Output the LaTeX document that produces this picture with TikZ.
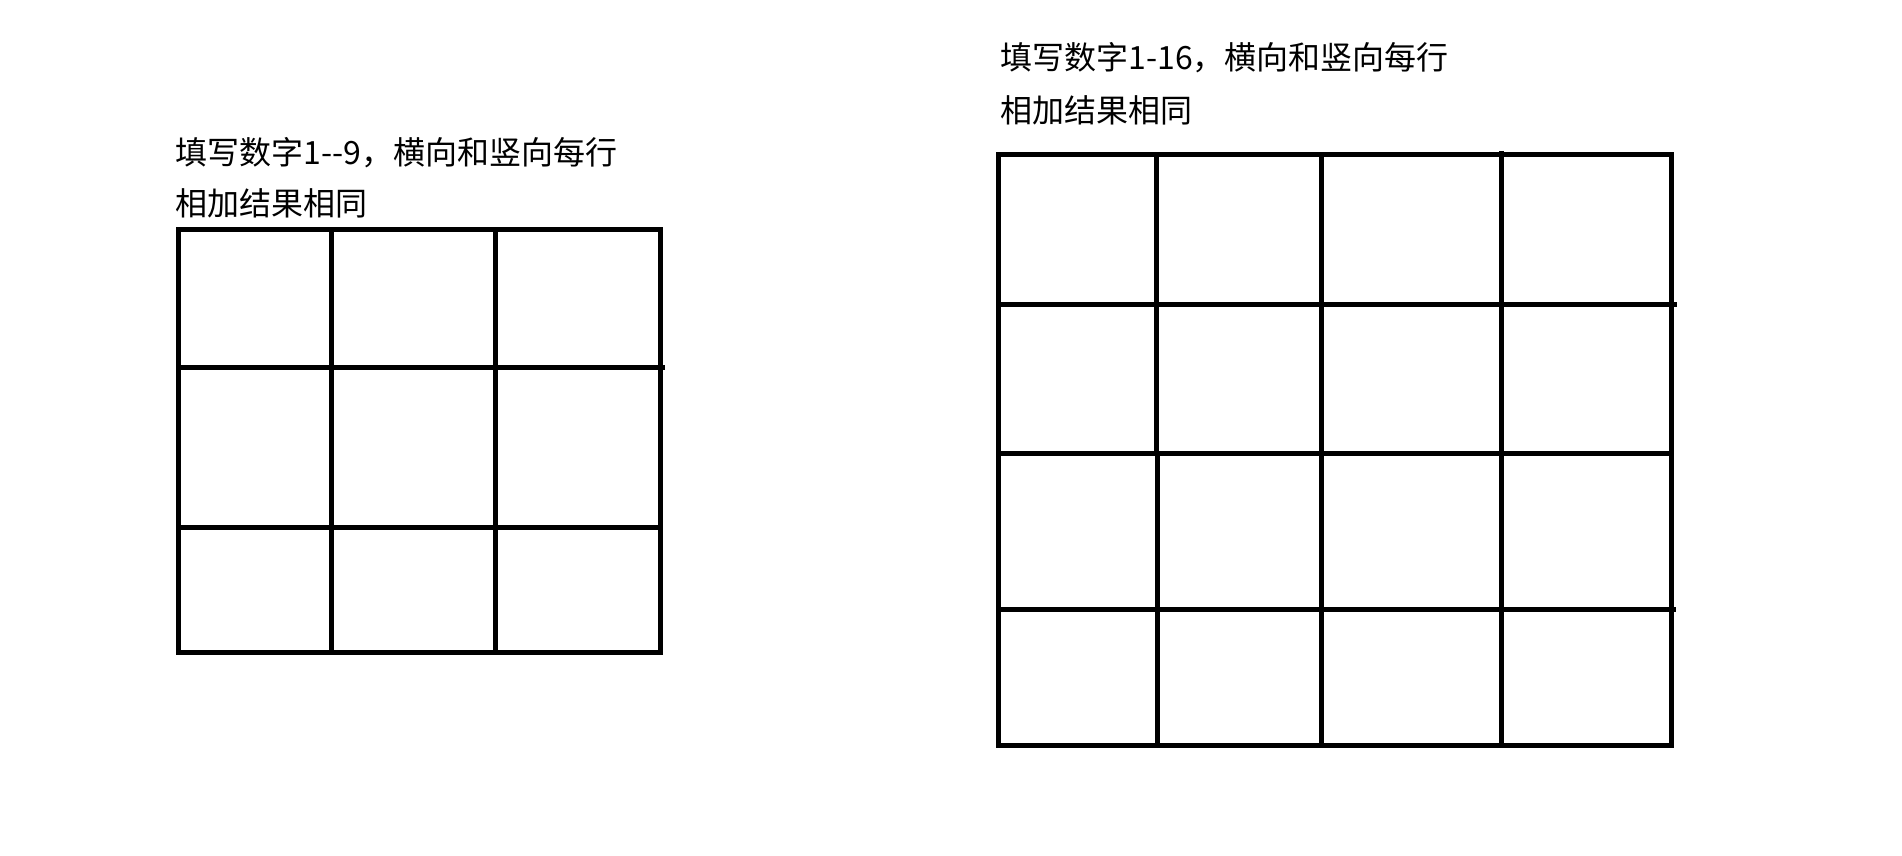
\documentclass[tikz,border=0pt]{standalone}
\usepackage{fontspec}
\setmainfont{Noto Sans CJK SC}
\begin{document}
\begin{tikzpicture}[x=0.5pt,y=-0.5pt,
  gridline/.style={line width=2.3pt, black},
  lbl/.style={anchor=base west, inner sep=0pt, font=\fontsize{16pt}{20pt}\selectfont}]
\fill[white] (0,0) rectangle (1902,856);
\useasboundingbox (0,0) rectangle (1902,856);
% left texts
\node[lbl] (l1) at (175,164) {填写数字1-{}-9，横向和竖向每行};
\node[lbl] (l2) at (175,215) {相加结果相同};
% right texts
\node[lbl] (r1) at (1000,69.5) {填写数字1-16，横向和竖向每行};
\node[lbl] (r2) at (1000,123) {相加结果相同};
% left 3x3 grid
\draw[gridline] (178.3,229.3) rectangle (660.7,652.3);
\draw[gridline] (331.3,229.3) -- (331.3,652.3);
\draw[gridline] (495.5,229.3) -- (495.5,652.3);
\draw[gridline] (178.3,367.3) -- (665,367.3);
\draw[gridline] (176,527.3) -- (660.7,527.3);
% right 4x4 grid
\draw[gridline] (998.3,154.3) rectangle (1671.5,745.3);
\draw[gridline] (1156.3,154.3) -- (1156.3,453.3);
\draw[gridline] (1157.7,453.3) -- (1157.7,745.3);
\draw[gridline] (1321.3,154.3) -- (1321.3,745.3);
\draw[gridline] (1501.3,151) -- (1501.3,745.3);
\draw[gridline] (998.3,304.3) -- (1676.5,304.3);
\draw[gridline] (998.3,453.3) -- (1671.5,453.3);
\draw[gridline] (998.3,609.3) -- (1676,609.3);
\end{tikzpicture}
\end{document}
